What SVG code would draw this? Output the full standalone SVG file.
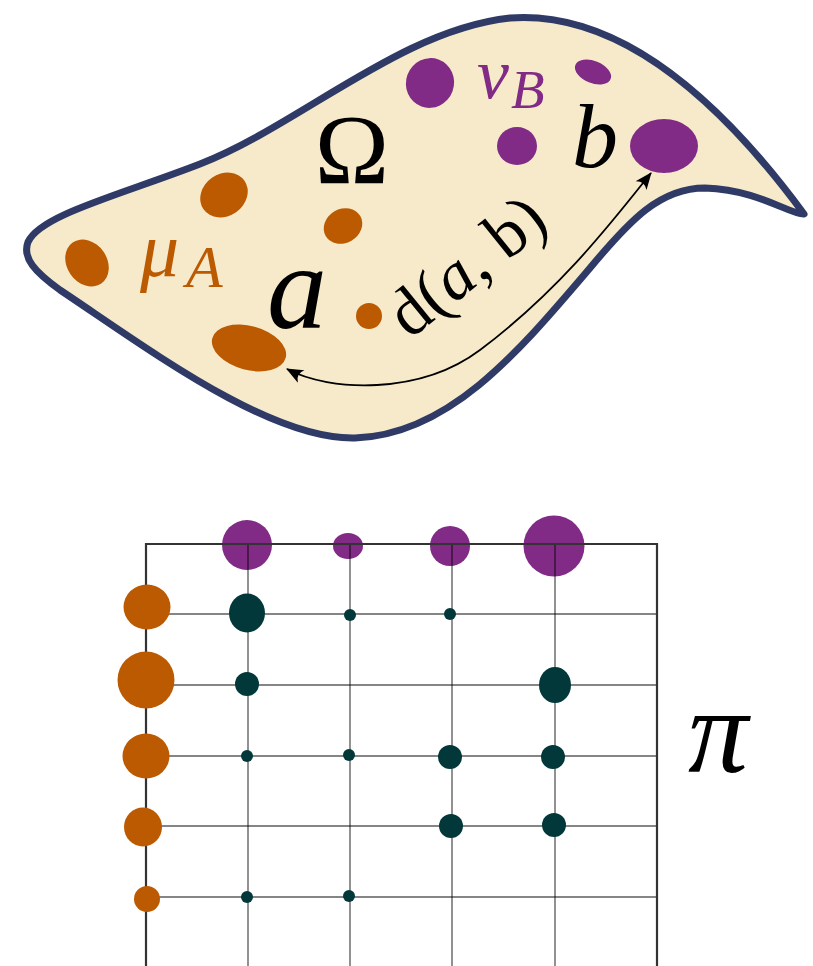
<svg xmlns="http://www.w3.org/2000/svg" width="813" height="966" viewBox="0 0 813 966">
  <style>
    .orange { fill: #bb5a00; }
    .purple { fill: #812a86; }
    .dark { fill: #02383a; }
    .grid { stroke: #000; stroke-opacity: 0.48; stroke-width: 1.8; fill: none; }
    .border { stroke: #333; stroke-width: 2.2; fill: none; }
    .math { font-family: "Liberation Serif", "DejaVu Serif", serif; }
    .it { font-style: italic; }
  </style>
  <defs>
    <marker id="stealth" viewBox="-17 -8 19 16" refX="0" refY="0" markerWidth="19" markerHeight="16" markerUnits="userSpaceOnUse" orient="auto-start-reverse">
      <path d="M1,0 L-16,-7 Q-10,0 -16,7 Z" fill="#000"/>
    </marker>
  </defs>

  <g id="domain">
    <path d="M 28 242 C 40 215, 120 195, 200 164 C 300 125, 400 30, 510 18 C 620 10, 720 100, 804 214 C 790 215, 760 190, 705 188 C 660 188, 630 220, 590 268 C 520 350, 450 435, 355 438 C 270 440, 150 350, 60 290 C 35 272, 22 258, 28 242 Z" fill="#f6eaca" stroke="#2f3a66" stroke-width="7" stroke-linejoin="round"/>
  </g>

  <g id="mu-points">
    <ellipse class="orange" cx="87" cy="263" rx="20" ry="25" transform="rotate(-35 87 263)"/>
    <ellipse class="orange" cx="224" cy="195" rx="25" ry="21" transform="rotate(-35 224 195)"/>
    <ellipse class="orange" cx="343" cy="226" rx="20" ry="17" transform="rotate(-30 343 226)"/>
    <circle class="orange" cx="369" cy="316" r="13"/>
    <ellipse class="orange" cx="249" cy="348" rx="38" ry="22" transform="rotate(15 249 348)"/>
  </g>

  <g id="nu-points">
    <ellipse class="purple" cx="430" cy="83" rx="24" ry="25" transform="rotate(20 430 83)"/>
    <ellipse class="purple" cx="593" cy="72" rx="19" ry="11" transform="rotate(22 593 72)"/>
    <ellipse class="purple" cx="517" cy="146" rx="20" ry="19"/>
    <ellipse class="purple" cx="664" cy="146" rx="34" ry="27"/>
  </g>

  <g id="labels-top" class="math">
    <text x="352" y="183" font-size="100" text-anchor="middle">Ω</text>
    <text x="140" y="276" font-size="78" class="it" fill="#bb5a00">μ</text>
    <text x="186" y="287" font-size="60" class="it" fill="#bb5a00">A</text>
    <text x="477" y="98" font-size="72" class="it" fill="#812a86">ν</text>
    <text x="511" y="108" font-size="55" class="it" fill="#812a86">B</text>
    <text x="297" y="328" font-size="120" class="it" text-anchor="middle">a</text>
    <text x="595" y="167" font-size="92" class="it" text-anchor="middle">b</text>
    <text x="410" y="340" font-size="68" transform="rotate(-39 410 340)">d(<tspan class="it">a</tspan>, b)</text>
  </g>

  <g id="connectors">
    <path d="M 287 369 C 330 392, 420 395, 480 350 C 560 290, 612 222, 651 173" fill="none" stroke="#000" stroke-width="1.8" marker-start="url(#stealth)" marker-end="url(#stealth)"/>
  </g>

  <g id="nu-marginal">
    <circle class="purple" cx="247" cy="545" r="25"/>
    <ellipse class="purple" cx="348" cy="546" rx="15" ry="13"/>
    <circle class="purple" cx="450" cy="546" r="20"/>
    <circle class="purple" cx="554" cy="546" r="30.5"/>
  </g>

  <g id="grid">
    <line class="grid" x1="248" y1="544" x2="248" y2="966"/>
    <line class="grid" x1="350" y1="544" x2="350" y2="966"/>
    <line class="grid" x1="452" y1="544" x2="452" y2="966"/>
    <line class="grid" x1="555" y1="544" x2="555" y2="966"/>
    <line class="grid" x1="146" y1="614" x2="657" y2="614"/>
    <line class="grid" x1="146" y1="685" x2="657" y2="685"/>
    <line class="grid" x1="146" y1="756" x2="657" y2="756"/>
    <line class="grid" x1="146" y1="826" x2="657" y2="826"/>
    <line class="grid" x1="146" y1="897" x2="657" y2="897"/>
    <path class="border" d="M 146 966 L 146 544 L 657 544 L 657 966"/>
  </g>

  <g id="mu-marginal">
    <ellipse class="orange" cx="147" cy="607" rx="23.5" ry="22.5"/>
    <circle class="orange" cx="146" cy="680" r="28.5"/>
    <ellipse class="orange" cx="146" cy="756" rx="23.5" ry="22.5"/>
    <ellipse class="orange" cx="143" cy="827" rx="19" ry="19.5"/>
    <circle class="orange" cx="147" cy="899" r="13"/>
  </g>

  <g id="plan">
    <ellipse class="dark" cx="247" cy="613" rx="18" ry="19.5"/>
    <circle class="dark" cx="350" cy="615" r="6"/>
    <circle class="dark" cx="450" cy="614" r="6"/>
    <circle class="dark" cx="247" cy="684" r="12"/>
    <ellipse class="dark" cx="555" cy="685" rx="16" ry="18"/>
    <circle class="dark" cx="247" cy="756" r="6"/>
    <circle class="dark" cx="349" cy="755" r="6"/>
    <circle class="dark" cx="450" cy="757" r="12"/>
    <circle class="dark" cx="553" cy="757" r="12"/>
    <circle class="dark" cx="451" cy="826" r="12"/>
    <circle class="dark" cx="554" cy="825" r="12"/>
    <circle class="dark" cx="247" cy="897" r="6"/>
    <circle class="dark" cx="349" cy="896" r="6"/>
  </g>

  <g id="pi-label" class="math">
    <text x="688" y="772" font-size="120" class="it">π</text>
  </g>
</svg>
